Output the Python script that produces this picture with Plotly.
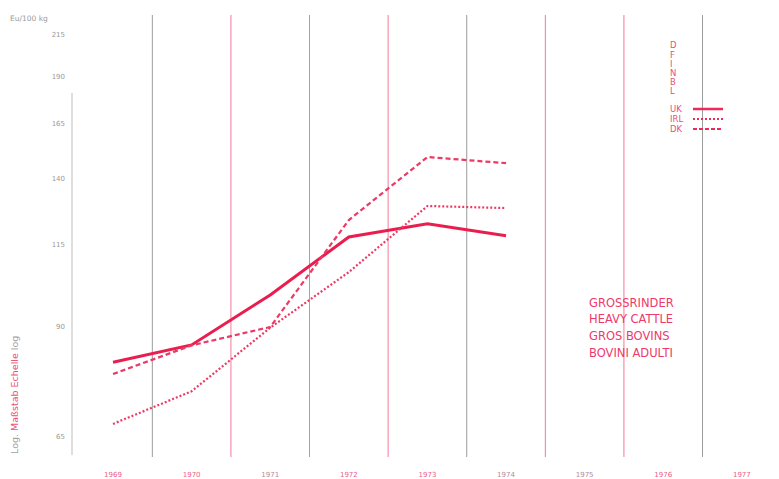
import plotly.graph_objects as go

years = [1969, 1970, 1971, 1972, 1973, 1974]
uk = [81.0, 85.3, 99.0, 117.7, 122.4, 118.1]
irl = [67.4, 74.3, 89.8, 106.0, 129.1, 128.3]
dk = [78.2, 85.2, 90.0, 123.8, 149.4, 146.7]

y_ticks = [65, 90, 115, 140, 165, 190, 215]
x_tick_years = [1969, 1970, 1971, 1972, 1973, 1974, 1975, 1976, 1977]
x_tick_colors = ["#e85f85", "#e85f85", "#b08a98", "#e85f85", "#e85f85",
                 "#b08a98", "#b08a98", "#e85f85", "#e85f85"]
divider_years = [1969.5, 1970.5, 1971.5, 1972.5, 1973.5, 1974.5, 1975.5, 1976.5]
divider_colors = ["#9c9c9c", "#f27a9a", "#f27a9a", "#f27a9a", "#9c9c9c",
                  "#f27a9a", "#f27a9a", "#9c9c9c"]
legend_letters = ["D", "F", "I", "N", "B", "L"]
legend_series = ["UK", "IRL", "DK"]
category_lines = ["GROSSRINDER", "HEAVY CATTLE", "GROS BOVINS", "BOVINI ADULTI"]

PINK = "#ee2a5a"

# page body has an 8px margin; compensate so that the figure lands where the reference is
OFF = 8
W, H = 779 - OFF, 479 - OFF
PL, PT, PB = 72, 15, 455          # plot area in window pixels
L, R, T, B = PL - OFF, 0, PT - OFF, 479 - PB
PW, PH = W - L - R, H - T - B


def px_x(px):
    return (px - PL) / PW


def px_y(py):
    return (PB - py) / PH


fig = go.Figure()
fig.add_trace(go.Scatter(x=years, y=uk, mode="lines", name="UK",
                         line=dict(color="#ea1e4e", width=3)))
fig.add_trace(go.Scatter(x=years, y=irl, mode="lines", name="IRL",
                         line=dict(color="#ec3a66", width=2.2, dash="2px,2px")))
fig.add_trace(go.Scatter(x=years, y=dk, mode="lines", name="DK",
                         line=dict(color="#ec3a66", width=2.2, dash="5px,3px")))

shapes = []
for xv, c in zip(divider_years, divider_colors):
    shapes.append(dict(type="line", xref="x", yref="paper", x0=xv, x1=xv,
                       y0=px_y(457), y1=1.0, line=dict(color=c, width=1), layer="below"))
# left axis line
shapes.append(dict(type="line", xref="paper", yref="paper", x0=0, x1=0,
                   y0=0.0, y1=px_y(93), line=dict(color="#bdbdbd", width=1)))

annotations = []
ly = [45, 55, 64, 73, 82, 91]
for t, yy in zip(legend_letters, ly):
    annotations.append(dict(text=t, xref="paper", yref="paper", x=px_x(668), y=px_y(yy),
                            xanchor="left", yanchor="middle", showarrow=False,
                            font=dict(size=8.5, color="#e8507a", family="DejaVu Sans")))
sy = [109, 119, 129]
dashes = ["solid", "2px,2px", "4px,2px"]
widths = [2.5, 2, 2]
for t, yy, d, w in zip(legend_series, sy, dashes, widths):
    annotations.append(dict(text=t, xref="paper", yref="paper", x=px_x(668), y=px_y(yy),
                            xanchor="left", yanchor="middle", showarrow=False,
                            font=dict(size=8.5, color="#e8507a", family="DejaVu Sans")))
    shapes.append(dict(type="line", xref="paper", yref="paper", x0=px_x(693), x1=px_x(723),
                       y0=px_y(yy), y1=px_y(yy), line=dict(color=PINK, width=w, dash=d)))

cy = [303, 319, 336, 353]
for t, yy in zip(category_lines, cy):
    annotations.append(dict(text=t, xref="paper", yref="paper", x=px_x(587), y=px_y(yy),
                            xanchor="left", yanchor="middle", showarrow=False,
                            font=dict(size=11.5, color="#ee3a6a", family="DejaVu Sans")))

annotations.append(dict(text="Eu/100 kg", xref="paper", yref="paper", x=px_x(8), y=px_y(18),
                        xanchor="left", yanchor="middle", showarrow=False,
                        font=dict(size=7.5, color="#9a9a9a", family="DejaVu Sans")))
annotations.append(dict(
    text="<span style='color:#a0a0a0'>Log. </span>Maßstab Echelle<span style='color:#a0a0a0'> log</span>",
    xref="paper", yref="paper", x=px_x(14), y=px_y(395), textangle=-90,
    xanchor="center", yanchor="middle", showarrow=False,
    font=dict(size=9.5, color="#e8507a", family="DejaVu Sans")))

ticktext = [f"<span style='color:{c}'>{y}</span>" for y, c in zip(x_tick_years, x_tick_colors)]

fig.update_layout(
    width=W, height=H,
    margin=dict(l=L, r=R, t=T, b=B),
    paper_bgcolor="white", plot_bgcolor="white",
    showlegend=False,
    shapes=shapes, annotations=annotations,
    xaxis=dict(range=[1968.478, 1968.478 + PW / 78.6], tickvals=x_tick_years, ticktext=ticktext,
               showgrid=False, zeroline=False, showline=False, ticks="",
               ticklabelstandoff=14,
               tickfont=dict(size=7, family="DejaVu Sans", color="#e85f85")),
    yaxis=dict(type="log", range=[1.7884, 2.3583], tickvals=y_ticks,
               ticktext=[str(v) for v in y_ticks],
               showgrid=False, zeroline=False, showline=False, ticks="",
               ticklabelstandoff=6,
               tickfont=dict(size=7, family="DejaVu Sans", color="#9a9a9a")),
)

fig.write_html("out.html")
